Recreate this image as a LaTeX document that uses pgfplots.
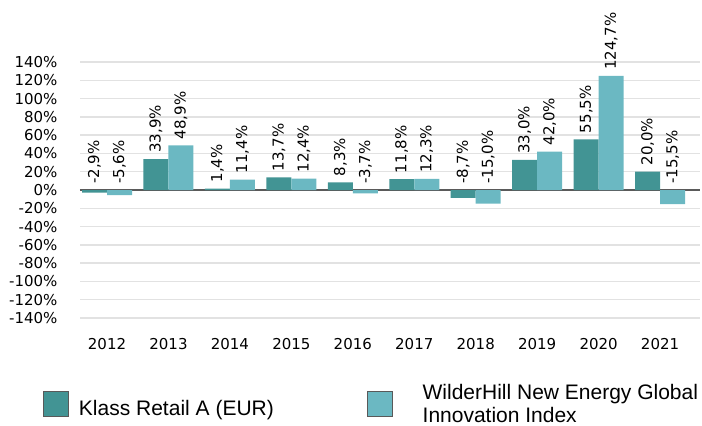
\documentclass[border=0pt]{standalone}
\usepackage{fontspec}
\setmainfont{DejaVu Sans}
\newfontfamily\legendfont{Liberation Sans}
\usepackage{pgfplots}
\pgfplotsset{compat=1.18}
\usepackage{pgfplotstable}
\definecolor{darkteal}{RGB}{66,148,148}
\definecolor{lightteal}{RGB}{107,184,194}
\definecolor{gridgray}{RGB}{226,226,226}
\definecolor{zerogray}{RGB}{90,90,90}
\newcommand{\lblfont}{\fontsize{15}{18}\selectfont}
\pgfplotstableread{
x k w
0 -2.9 -5.6
1 33.9 48.9
2 1.4 11.4
3 13.7 12.4
4 8.3 -3.7
5 11.8 12.3
6 -8.7 -15.0
7 33.0 42.0
8 55.5 124.7
9 20.0 -15.5
}\datatable
\begin{document}
\begin{tikzpicture}
\useasboundingbox (0,0) rectangle (702pt,426pt);
\begin{axis}[
  at={(80pt,108pt)}, anchor=south west,
  scale only axis, width=620pt, height=256pt,
  xmin=-0.44, xmax=9.65, ymin=-140, ymax=140,
  clip=false,
  ybar=0pt, bar width=25pt,
  axis line style={draw=none},
  major tick length=0pt,
  xtick={0,...,9},
  xticklabels={2012,2013,2014,2015,2016,2017,2018,2019,2020,2021},
  ytick={-140,-120,...,140},
  yticklabel={\pgfmathprintnumber{\tick}\%},
  /pgf/number format/assume math mode=true,
  ticklabel style={font=\lblfont},
  yticklabel style={xshift=-19pt},
  xticklabel style={yshift=-17pt},
  ymajorgrids, grid style={gridgray, line width=1.3pt},
  extra y ticks={0}, extra y tick labels={},
  extra y tick style={grid style={zerogray, line width=1.4pt}},
  visualization depends on={y \as \rawy},
  nodes near coords={\pgfmathprintnumber[fixed,fixed zerofill,precision=1,use comma]{\pgfplotspointmeta}\%},
  every node near coord/.append style={font=\lblfont, yshift={max(0,-\rawy)*0.9142857pt}, rotate=90, anchor=west, inner xsep=6pt},
  legend columns=2,
  legend style={at={(-0.0597,-0.2535)}, anchor=north west, draw=none, fill=none, inner sep=0pt,
    cells={anchor=base west},
    nodes={inner sep=0pt, font=\legendfont\fontsize{21}{23}\selectfont},
    /tikz/every odd column/.append style={column sep=10pt},
    /tikz/every even column/.append style={column sep=93pt}},
  legend image code/.code={\draw[#1, draw=black!65, line width=0.8pt] (0pt,-1pt) rectangle (25pt,24pt);},
]
\addplot[fill=darkteal, draw=none] table[x=x,y=k]{\datatable};
\addlegendentry{Klass Retail A (EUR)}
\addplot[fill=lightteal, draw=none] table[x=x,y=w]{\datatable};
\addlegendentry{\hspace*{20pt}\raisebox{16pt}{\begin{tabular}[t]{@{}l@{}}WilderHill New Energy Global\\Innovation Index\end{tabular}}}
\end{axis}
\end{tikzpicture}
\end{document}
